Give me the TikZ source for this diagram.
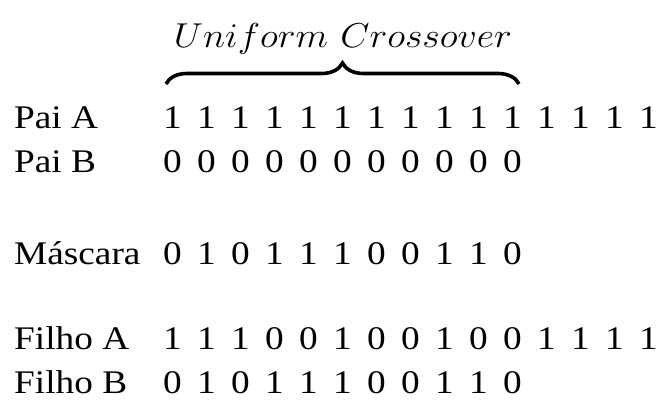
\documentclass[tikz,border=0pt]{standalone}
\usepackage{graphicx}
\usepackage{fontspec}
\setmainfont{Liberation Serif}
\usetikzlibrary{decorations.pathreplacing}
\begin{document}
\begin{tikzpicture}[x=1pt,y=-1pt,
  txt/.style={inner sep=0pt, font=\fontsize{33}{40}\selectfont},
  lbl/.style={txt, anchor=base west},
  bit/.style={txt, anchor=base},
  ttl/.style={txt, anchor=base},
  bracestyle/.style={decorate, decoration={brace, amplitude=21pt}, line width=3.6pt}]
\useasboundingbox (0,0) rectangle (658,403);
% title and brace
\node[ttl] (title) at (343,48) {\resizebox{338pt}{24pt}{$Uniform\ Crossover$}};
\coordinate (bl) at (166,84);
\coordinate (br) at (519,84);
\draw[bracestyle] (bl) -- (br);
% labels
\node[lbl] (paiA)   at (14,129) {\scalebox{1.13}[1]{Pai A}};
\node[lbl] (paiB)   at (14,173) {\scalebox{1.13}[1]{Pai B}};
\node[lbl] (masc)   at (14,265) {\scalebox{1.13}[1]{Máscara}};
\node[lbl] (filhoA) at (14,349) {\scalebox{1.13}[1]{Filho A}};
\node[lbl] (filhoB) at (14,393) {\scalebox{1.13}[1]{Filho B}};
% bits
\foreach \b [count=\i from 0] in {1,1,1,1,1,1,1,1,1,1,1,1,1,1,1}
  \node[bit] (pa\i) at (172.5+34*\i,129) {\scalebox{1.13}[1]{\b}};
\foreach \b [count=\i from 0] in {0,0,0,0,0,0,0,0,0,0,0}
  \node[bit] (pb\i) at (172.5+34*\i,173) {\scalebox{1.13}[1]{\b}};
\foreach \b [count=\i from 0] in {0,1,0,1,1,1,0,0,1,1,0}
  \node[bit] (m\i) at (172.5+34*\i,265) {\scalebox{1.13}[1]{\b}};
\foreach \b [count=\i from 0] in {1,1,1,0,0,1,0,0,1,0,0,1,1,1,1}
  \node[bit] (fa\i) at (172.5+34*\i,349) {\scalebox{1.13}[1]{\b}};
\foreach \b [count=\i from 0] in {0,1,0,1,1,1,0,0,1,1,0}
  \node[bit] (fb\i) at (172.5+34*\i,393) {\scalebox{1.13}[1]{\b}};
\end{tikzpicture}
\end{document}
